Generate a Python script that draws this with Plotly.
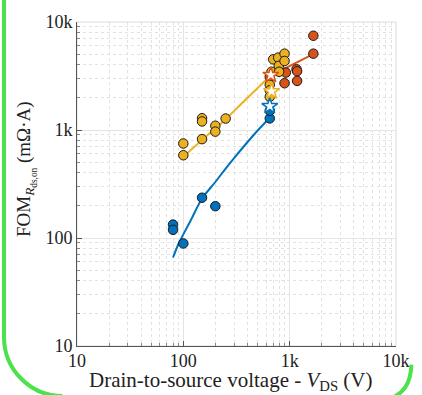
import plotly.graph_objects as go

# ---- data ----
blue_v = [80, 80, 100, 150, 200, 650, 650]
blue_f = [133, 119, 89, 236, 197, 1280, 1510]

orange_v = [650, 920, 895, 1160, 1175, 1175, 1670, 1670]
orange_f = [3115, 3400, 2710, 3650, 3500, 2848, 7460, 5090]

yellow_v = [100, 100, 150, 150, 150, 200, 200, 250,
            650, 650, 650, 675, 700, 780, 790, 795, 895, 895]
yellow_f = [750, 584, 1285, 1200, 823, 1095, 966, 1277,
            2620, 2330, 2030, 3460, 4510, 4680, 3925, 3460, 5090, 4355]

star_v = [650, 675, 665]
star_f = [1663, 2280, 3230]

blue_fit_v = [80, 90, 100, 120, 150, 200, 250, 300, 400, 500, 650]
blue_fit_f = [66, 88, 108, 152, 232, 330, 440, 550, 770, 990, 1300]

yellow_fit_v = [100, 150, 200, 250, 350, 500, 650]
yellow_fit_f = [565, 810, 1040, 1260, 1740, 2450, 3150]

orange_fit_v = [650, 1000, 1700]
orange_fit_f = [3150, 3900, 5100]

tick_vals = [10, 100, 1000, 10000]
tick_text = ["10", "100", "1k", "10k"]

BLUE = "#0072BD"
ORANGE = "#D95319"
YELLOW = "#EDB120"
FONT = "Liberation Serif"

fig = go.Figure()

# fit lines (behind markers)
fig.add_trace(go.Scatter(x=blue_fit_v, y=blue_fit_f, mode="lines",
                         line=dict(color=BLUE, width=2), line_shape="spline"))
fig.add_trace(go.Scatter(x=yellow_fit_v, y=yellow_fit_f, mode="lines",
                         line=dict(color=YELLOW, width=2), line_shape="spline"))
fig.add_trace(go.Scatter(x=orange_fit_v, y=orange_fit_f, mode="lines",
                         line=dict(color=ORANGE, width=2)))

# data points
for v, f, c in [(blue_v, blue_f, BLUE), (orange_v, orange_f, ORANGE),
                (yellow_v, yellow_f, YELLOW)]:
    fig.add_trace(go.Scatter(x=v, y=f, mode="markers",
                             marker=dict(size=9.5, color=c, symbol="circle",
                                         line=dict(color="#1a1a1a", width=1))))

# stars
fig.add_trace(go.Scatter(x=star_v, y=star_f, mode="markers",
                         marker=dict(size=12, symbol="star", color="white",
                                     line=dict(color=[BLUE, YELLOW, ORANGE], width=1.5))))

L, T, W, H = 77, 16, 330, 330


def P(x, y):
    return f"{(x - L) / W:.4f},{(T + H - y) / H:.4f}"


left_arc = (f"M {P(1.5, -10)} L {P(1.5, 337)} "
            f"C {P(1.5, 370)} {P(28.9, 397)} {P(62, 397)}")
right_arc = f"M {P(423, 365)} C {P(422, 385)} {P(415, 395)} {P(398, 401)}"

axis_common = dict(
    type="log", range=[1, 4],
    tickmode="array", tickvals=tick_vals, ticktext=tick_text,
    showgrid=True, gridcolor="#e4e4e4", gridwidth=1,
    ticks="inside", ticklen=5, tickcolor="#555", tickwidth=1,
    showline=True, linecolor="#555", linewidth=1, mirror=False,
    zeroline=False,
    tickfont=dict(family=FONT, size=18, color="#222"),
    minor=dict(dtick="D1", showgrid=True,
               gridcolor="#e2e2e2", griddash="dot", gridwidth=1,
               ticks="inside", ticklen=3, tickcolor="#888"),
)

fig.update_layout(
    width=422, height=395,
    margin=dict(l=L, r=422 - L - W, t=T, b=395 - T - H),
    paper_bgcolor="white", plot_bgcolor="white",
    showlegend=False,
    xaxis=dict(axis_common, ticklabelstandoff=-2),
    yaxis=axis_common,
    shapes=[
        dict(type="rect", xref="paper", yref="paper", x0=0, y0=0, x1=1, y1=1,
             line=dict(color="#dcdcdc", width=1), layer="below"),
        dict(type="path", xref="paper", yref="paper", path=left_arc,
             line=dict(color="#4be24b", width=4)),
        dict(type="path", xref="paper", yref="paper", path=right_arc,
             line=dict(color="#4be24b", width=4)),
    ],
    annotations=[
        dict(text="Drain-to-source voltage - <i>V</i><sub>DS</sub> (V)",
             xref="paper", yref="paper", x=(236 - L) / W, y=(T + H - 382) / H,
             xanchor="center", yanchor="middle", showarrow=False,
             font=dict(family=FONT, size=21, color="#222")),
        dict(text="FOM<sub><i>R</i><sub>ds,on</sub></sub> (mΩ·A)",
             xref="paper", yref="paper", x=(25 - L) / W, y=(T + H - 166) / H,
             xanchor="center", yanchor="middle", textangle=-90, showarrow=False,
             font=dict(family=FONT, size=19, color="#222")),
    ],
)

fig.write_html("out.html")
